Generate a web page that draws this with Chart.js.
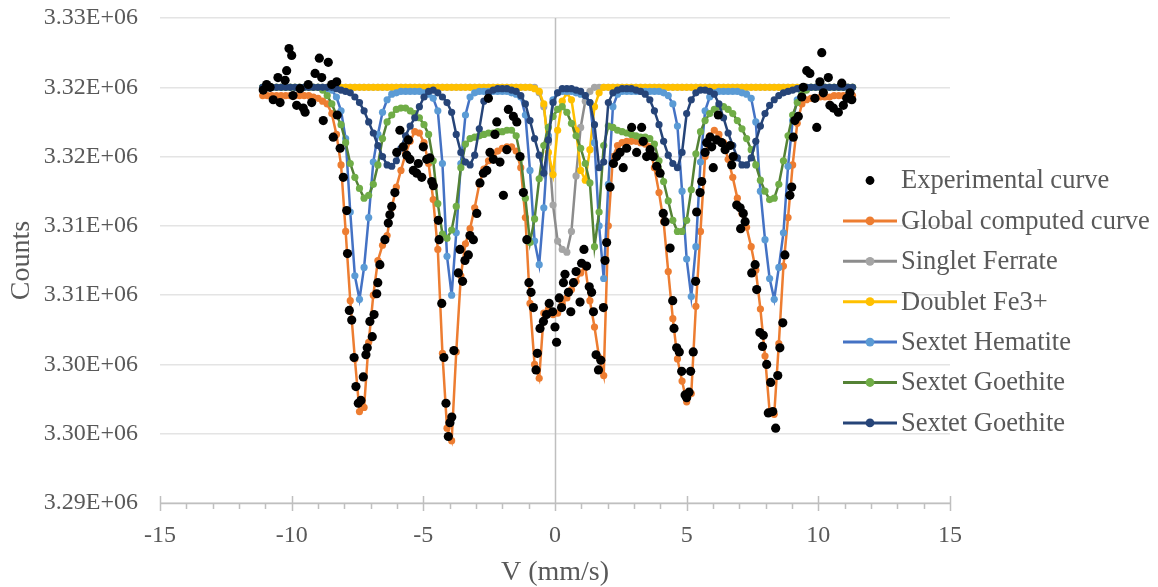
<!DOCTYPE html>
<html>
<head>
<meta charset="utf-8">
<script src="https://cdn.jsdelivr.net/npm/chart.js@4.4.1/dist/chart.umd.min.js"></script>
<style>
  html, body { margin: 0; padding: 0; background: #fff; }
  #wrap { width: 1158px; height: 587px; }
</style>
</head>
<body>
<div id="wrap"><canvas id="chart"></canvas></div>
<script>
// velocity channels (mm/s) shared by the fitted curves
const velocity = [
  -11.1, -10.925, -10.75, -10.575, -10.4, -10.225, -10.05, -9.875, -9.7, -9.525,
  -9.35, -9.175, -9, -8.825, -8.65, -8.475, -8.3, -8.125, -7.95, -7.775,
  -7.6, -7.425, -7.25, -7.075, -6.9, -6.725, -6.55, -6.375, -6.2, -6.025,
  -5.85, -5.675, -5.5, -5.325, -5.15, -4.975, -4.8, -4.625, -4.45, -4.275,
  -4.1, -3.925, -3.75, -3.575, -3.4, -3.225, -3.05, -2.875, -2.7, -2.525,
  -2.35, -2.175, -2, -1.825, -1.65, -1.475, -1.3, -1.125, -0.95, -0.775,
  -0.6, -0.425, -0.25, -0.075, 0.1, 0.275, 0.45, 0.625, 0.8, 0.975,
  1.15, 1.325, 1.5, 1.675, 1.85, 2.025, 2.2, 2.375, 2.55, 2.725,
  2.9, 3.075, 3.25, 3.425, 3.6, 3.775, 3.95, 4.125, 4.3, 4.475,
  4.65, 4.825, 5, 5.175, 5.35, 5.525, 5.7, 5.875, 6.05, 6.225,
  6.4, 6.575, 6.75, 6.925, 7.1, 7.275, 7.45, 7.625, 7.8, 7.975,
  8.15, 8.325, 8.5, 8.675, 8.85, 9.025, 9.2, 9.375, 9.55, 9.725,
  9.9, 10.075, 10.25, 10.425, 10.6, 10.775, 10.95, 11.125, 11.3
]

// counts, in thousands
const globalCurve = [
  3319.4, 3319.4, 3319.4, 3319.4, 3319.4, 3319.4, 3319.4, 3319.4, 3319.4, 3319.4,
  3319.4, 3319.3, 3319.2, 3319.0, 3318.8, 3318.1, 3316.6, 3314.4, 3309.6, 3304.6,
  3300.4, 3296.6, 3296.9, 3301.6, 3305.0, 3307.5, 3308.6, 3309.3, 3311.3, 3312.8,
  3314.0, 3315.2, 3316.1, 3316.8, 3316.7, 3316.0, 3314.5, 3311.9, 3308.3, 3300.8,
  3295.4, 3294.5, 3300.9, 3306.4, 3308.7, 3309.8, 3311.3, 3313.0, 3314.1, 3314.7,
  3315.1, 3315.4, 3315.6, 3315.7, 3315.7, 3315.4, 3314.2, 3310.6, 3304.4, 3300.0,
  3299.0, 3303.7, 3304.0, 3303.6, 3303.7, 3304.4, 3304.8, 3305.4, 3306.0, 3306.6,
  3307.0, 3304.6, 3302.7, 3300.5, 3299.2, 3310.0, 3315.0, 3315.8, 3316.0, 3316.1,
  3316.1, 3316.1, 3316.0, 3315.9, 3315.7, 3314.2, 3312.4, 3310.3, 3306.7, 3303.3,
  3300.4, 3298.8, 3297.3, 3297.9, 3304.2, 3309.6, 3315.0, 3316.5, 3316.9, 3316.6,
  3316.0, 3314.8, 3313.5, 3312.0, 3310.9, 3309.9, 3308.5, 3306.8, 3304.0, 3300.6,
  3296.6, 3296.4, 3301.5, 3307.1, 3310.6, 3314.4, 3317.4, 3318.8, 3319.1, 3319.2,
  3319.2, 3319.3, 3319.3, 3319.3, 3319.4, 3319.4, 3319.4, 3319.4, 3319.4
]

const singletCurve = [
  3320, 3320, 3320, 3320, 3320, 3320, 3320, 3320, 3320, 3320,
  3320, 3320, 3320, 3320, 3320, 3320, 3320, 3320, 3320, 3320,
  3320, 3320, 3320, 3320, 3320, 3320, 3320, 3320, 3320, 3320,
  3320, 3320, 3320, 3320, 3320, 3320, 3320, 3320, 3320, 3320,
  3320, 3320, 3320, 3320, 3320, 3320, 3320, 3320, 3320, 3320,
  3320, 3320, 3320, 3320, 3320, 3320, 3320, 3320, 3320, 3320,
  3319.6, 3318.6, 3316.0, 3311.5, 3308.9, 3308.3, 3308.1, 3309.6, 3313.6, 3317.1,
  3319.0, 3319.7, 3320, 3320, 3320, 3320, 3320, 3320, 3320, 3320,
  3320, 3320, 3320, 3320, 3320, 3320, 3320, 3320, 3320, 3320,
  3320, 3320, 3320, 3320, 3320, 3320, 3320, 3320, 3320, 3320,
  3320, 3320, 3320, 3320, 3320, 3320, 3320, 3320, 3320, 3320,
  3320, 3320, 3320, 3320, 3320, 3320, 3320, 3320, 3320, 3320,
  3320, 3320, 3320, 3320, 3320, 3320, 3320, 3320, 3320
]

const doubletCurve = [
  3320, 3320, 3320, 3320, 3320, 3320, 3320, 3320, 3320, 3320,
  3320, 3320, 3320, 3320, 3320, 3320, 3320, 3320, 3320, 3320,
  3320, 3320, 3320, 3320, 3320, 3320, 3320, 3320, 3320, 3320,
  3320, 3320, 3320, 3320, 3320, 3320, 3320, 3320, 3320, 3320,
  3320, 3320, 3320, 3320, 3320, 3320, 3320, 3320, 3320, 3320,
  3320, 3320, 3320, 3320, 3320, 3320, 3320, 3320, 3320, 3319.9,
  3319.7, 3318.8, 3315.3, 3313.7, 3316.9, 3319.0, 3319.6, 3319.1, 3316.9, 3314.0,
  3313.3, 3315.5, 3318.6, 3319.6, 3320, 3320, 3320, 3320, 3320, 3320,
  3320, 3320, 3320, 3320, 3320, 3320, 3320, 3320, 3320, 3320,
  3320, 3320, 3320, 3320, 3320, 3320, 3320, 3320, 3320, 3320,
  3320, 3320, 3320, 3320, 3320, 3320, 3320, 3320, 3320, 3320,
  3320, 3320, 3320, 3320, 3320, 3320, 3320, 3320, 3320, 3320,
  3320, 3320, 3320, 3320, 3320, 3320, 3320, 3320, 3320
]

const hematiteCurve = [
  3320, 3320, 3320, 3320, 3320, 3320, 3320, 3320, 3320, 3320,
  3320.0, 3320.0, 3320.0, 3320.0, 3319.9, 3319.8, 3319.3, 3318.3, 3316.3, 3311.0,
  3306.4, 3304.7, 3307.0, 3310.6, 3314.6, 3316.6, 3318.2, 3319.1, 3319.5, 3319.6,
  3319.7, 3319.7, 3319.7, 3319.7, 3319.7, 3319.6, 3319.5, 3319.2, 3318.3, 3314.5,
  3307.8, 3305.0, 3309.5, 3314.5, 3318.0, 3319.3, 3319.6, 3319.7, 3319.7, 3319.7,
  3319.7, 3319.7, 3319.7, 3319.7, 3319.6, 3319.5, 3319.3, 3318.0, 3314.0, 3308.9,
  3307.2, 3311.3, 3316.5, 3319.1, 3319.6, 3319.7, 3319.7, 3319.7, 3319.6, 3319.5,
  3319.4, 3318.9, 3316.0, 3310.0, 3306.2, 3313.0, 3318.6, 3319.5, 3319.7, 3319.7,
  3319.7, 3319.7, 3319.7, 3319.7, 3319.7, 3319.7, 3319.7, 3319.6, 3319.4, 3318.8,
  3317.2, 3312.5, 3307.6, 3304.9, 3308.5, 3314.6, 3318.3, 3319.3, 3319.6, 3319.7,
  3319.7, 3319.7, 3319.7, 3319.7, 3319.6, 3319.5, 3319.2, 3317.5, 3312.5, 3309.0,
  3306.2, 3304.7, 3307.0, 3309.5, 3314.3, 3317.6, 3319.1, 3319.7, 3319.9, 3320.0,
  3320, 3320, 3320, 3320, 3320, 3320, 3320, 3320, 3320
]

const goethiteCurve = [
  3320, 3320, 3320, 3320, 3320, 3320, 3320, 3320, 3320, 3320,
  3320.0, 3320.0, 3320.0, 3319.8, 3319.4, 3318.8, 3318.0, 3317.3, 3316.0, 3314.5,
  3313.5, 3312.7, 3312.0, 3312.2, 3313.0, 3314.4, 3316.3, 3317.5, 3318.0, 3318.4,
  3318.5, 3318.5, 3318.3, 3318.1, 3317.8, 3317.3, 3316.6, 3314.7, 3311.6, 3309.4,
  3309.1, 3309.7, 3311.4, 3314.2, 3315.9, 3316.3, 3316.4, 3316.5, 3316.6, 3316.7,
  3316.7, 3316.8, 3316.8, 3316.9, 3316.9, 3316.5, 3314.9, 3312.0, 3308.8, 3310.5,
  3313.4, 3315.8, 3317.1, 3317.9, 3318.4, 3318.6, 3318.2, 3317.4, 3316.5, 3315.6,
  3314.5, 3313.1, 3308.5, 3311.0, 3315.8, 3317.2, 3317.1, 3316.9, 3316.8, 3316.7,
  3316.6, 3316.5, 3316.4, 3316.4, 3316.3, 3315.9, 3314.7, 3313.2, 3311.8, 3310.4,
  3309.6, 3309.6, 3310.4, 3312.6, 3315.2, 3316.8, 3317.6, 3318.1, 3318.4, 3318.6,
  3318.6, 3318.4, 3318.1, 3317.6, 3317.0, 3316.3, 3315.5, 3314.4, 3313.3, 3312.5,
  3311.9, 3312.0, 3313.0, 3314.7, 3316.5, 3318.0, 3318.9, 3319.5, 3319.8, 3320.0,
  3320, 3320, 3320, 3320, 3320, 3320, 3320, 3320, 3320
]

const goethite2Curve = [
  3320, 3320, 3320, 3320, 3320, 3320, 3320, 3320, 3320, 3320,
  3320.0, 3320.0, 3320.0, 3320.0, 3320.0, 3320.0, 3319.9, 3319.8, 3319.7, 3319.6,
  3319.3, 3318.9, 3318.3, 3317.5, 3316.7, 3315.8, 3315.0, 3314.4, 3314.3, 3314.7,
  3315.6, 3316.5, 3317.2, 3317.8, 3318.6, 3319.3, 3319.7, 3319.8, 3319.6, 3319.3,
  3318.9, 3318.2, 3316.6, 3315.3, 3314.6, 3314.4, 3315.1, 3317.0, 3319.0, 3319.6,
  3319.8, 3319.9, 3319.9, 3319.9, 3319.8, 3319.7, 3319.4, 3318.8, 3317.6, 3316.3,
  3315.1, 3313.8, 3316.2, 3318.9, 3319.6, 3319.9, 3319.9, 3319.9, 3319.8, 3319.7,
  3319.4, 3318.9, 3317.3, 3314.2, 3314.6, 3318.9, 3319.6, 3319.8, 3319.9, 3319.9,
  3319.9, 3319.8, 3319.7, 3319.5, 3319.1, 3318.3, 3317.3, 3316.1, 3315.1, 3314.5,
  3314.2, 3315.3, 3318.1, 3319.1, 3319.6, 3319.8, 3319.8, 3319.7, 3319.5, 3318.8,
  3317.8, 3316.7, 3315.8, 3314.9, 3314.4, 3314.4, 3314.9, 3316.1, 3317.2, 3318.1,
  3318.7, 3319.1, 3319.4, 3319.6, 3319.7, 3319.8, 3319.9, 3320.0, 3320.0, 3320.0,
  3320, 3320, 3320, 3320, 3320, 3320, 3320, 3320, 3320
]

// measured spectrum
const expVelocity = [
  -11.08, -10.95, -10.82, -10.70, -10.52, -10.44, -10.25, -10.19, -10.10, -10.00,
  -9.95, -9.81, -9.68, -9.56, -9.49, -9.37, -9.24, -9.11, -8.95, -8.86,
  -8.80, -8.61, -8.48, -8.42, -8.29, -8.27, -8.16, -8.04, -7.91, -7.88,
  -7.81, -7.72, -7.63, -7.56, -7.47, -7.37, -7.28, -7.18, -7.13, -7.03,
  -6.94, -6.87, -6.77, -6.73, -6.65, -6.46, -6.33, -6.27, -6.20, -6.08,
  -6.01, -5.89, -5.76, -5.63, -5.57, -5.51, -5.38, -5.25, -5.19, -5.06,
  -5.00, -4.87, -4.75, -4.68, -4.62, -4.43, -4.40, -4.30, -4.22, -4.14,
  -4.05, -3.99, -3.92, -3.84, -3.67, -3.61, -3.51, -3.42, -3.29, -3.23,
  -3.10, -2.97, -2.85, -2.72, -2.59, -2.53, -2.47, -2.34, -2.28, -2.21,
  -2.09, -1.96, -1.83, -1.77, -1.58, -1.45, -1.33, -1.20, -1.07, -0.99,
  -0.91, -0.82, -0.72, -0.67, -0.57, -0.44, -0.32, -0.22, -0.09, 0.00,
  0.06, 0.16, 0.25, 0.32, 0.38, 0.51, 0.60, 0.70, 0.80, 0.95,
  1.01, 1.10, 1.20, 1.30, 1.39, 1.46, 1.56, 1.65, 1.74, 1.84,
  1.90, 1.96, 2.09, 2.22, 2.34, 2.47, 2.59, 2.72, 2.91, 3.10,
  3.29, 3.35, 3.48, 3.61, 3.73, 3.86, 3.99, 4.11, 4.18, 4.37,
  4.47, 4.52, 4.62, 4.72, 4.81, 4.94, 5.00, 5.09, 5.15, 5.25,
  5.34, 5.38, 5.51, 5.57, 5.70, 5.76, 5.89, 5.95, 6.01, 6.14,
  6.20, 6.33, 6.46, 6.65, 6.71, 6.77, 6.90, 7.03, 7.05, 7.15,
  7.22, 7.47, 7.60, 7.66, 7.78, 7.88, 7.91, 8.04, 8.10, 8.19,
  8.27, 8.38, 8.46, 8.54, 8.65, 8.73, 8.92, 8.99, 9.05, 9.11,
  9.24, 9.37, 9.43, 9.56, 9.68, 9.87, 9.94, 10.06, 10.13, 10.19,
  10.38, 10.44, 10.57, 10.76, 10.89, 10.95, 11.08, 11.20, 11.27
]
const expCounts = [
  3319.8, 3320.2, 3320.0, 3319.1, 3320.7, 3318.9, 3320.5, 3321.2, 3322.8, 3322.3,
  3319.4, 3318.7, 3319.9, 3318.5, 3318.2, 3320.2, 3318.9, 3321.0, 3322.1, 3320.7,
  3317.6, 3321.8, 3320.2, 3316.4, 3320.4, 3318.0, 3315.6, 3313.5, 3311.1, 3308.0,
  3303.9, 3303.2, 3300.5, 3298.4, 3297.2, 3297.4, 3299.1, 3300.7, 3301.2, 3303.1,
  3302.0, 3303.6, 3305.1, 3305.9, 3307.2, 3309.0, 3310.2, 3310.8, 3311.4, 3312.4,
  3315.3, 3316.9, 3315.7, 3315.1, 3316.2, 3314.8, 3314.0, 3313.8, 3314.5, 3313.5,
  3315.7, 3314.8, 3314.9, 3313.2, 3312.9, 3310.4, 3309.0, 3304.4, 3300.5, 3297.2,
  3294.8, 3295.8, 3296.2, 3301.0, 3306.6, 3308.3, 3306.0, 3307.5, 3307.9, 3309.3,
  3309.0, 3310.9, 3313.1, 3313.8, 3314.0, 3319.2, 3315.3, 3314.8, 3316.6, 3317.5,
  3314.6, 3312.2, 3315.5, 3318.4, 3317.9, 3317.5, 3315.0, 3312.4, 3309.0, 3305.9,
  3305.2, 3304.1, 3299.6, 3300.8, 3302.6, 3303.1, 3303.6, 3304.4, 3303.8, 3302.7,
  3301.6, 3304.8, 3304.1, 3305.9, 3306.5, 3305.2, 3303.8, 3305.9, 3306.7, 3304.5,
  3307.3, 3308.3, 3307.1, 3305.6, 3305.2, 3303.8, 3300.7, 3299.6, 3300.3, 3304.1,
  3307.5, 3308.8, 3312.8, 3314.5, 3315.0, 3315.3, 3314.2, 3315.6, 3317.1, 3315.3,
  3317.1, 3316.1, 3315.0, 3315.5, 3315.0, 3314.3, 3313.8, 3310.9, 3310.3, 3308.4,
  3304.6, 3302.6, 3301.2, 3300.9, 3299.5, 3297.8, 3297.6, 3298.0, 3299.5, 3300.9,
  3306.0, 3311.0, 3312.4, 3313.2, 3315.3, 3316.0, 3316.4, 3315.7, 3314.2, 3316.2,
  3318.0, 3316.0, 3315.5, 3315.8, 3314.4, 3315.0, 3311.5, 3311.3, 3309.8, 3310.9,
  3310.3, 3306.6, 3307.2, 3305.4, 3302.3, 3301.3, 3302.1, 3300.0, 3296.5, 3298.7,
  3296.6, 3295.4, 3299.2, 3301.2, 3303.0, 3307.9, 3312.2, 3312.8, 3316.4, 3317.6,
  3317.9, 3319.3, 3320.0, 3321.2, 3321.0, 3319.2, 3317.1, 3320.4, 3322.5, 3319.6,
  3320.7, 3318.7, 3318.5, 3318.2, 3320.3, 3318.7, 3319.2, 3319.6, 3319.1
]

const yTickLabels = ["3.29E+06", "3.30E+06", "3.30E+06", "3.31E+06", "3.31E+06", "3.32E+06", "3.32E+06", "3.33E+06"]

const FONT = "'Liberation Serif', 'Times New Roman', serif"
const TEXT = "#595959"

const toPoints = (xs, ys) => xs.map((x, i) => ({ x: x, y: ys[i] }))

function curve(label, values, line, marker, order) {
  return {
    label: label,
    data: toPoints(velocity, values),
    showLine: true,
    borderColor: line,
    borderWidth: 2.5,
    pointRadius: 3.6,
    pointBorderWidth: 0,
    pointBackgroundColor: marker,
    backgroundColor: marker,
    order: order
  }
}

// zero line and the x axis with its crossing ticks
const axisLines = {
  id: "axisLines",
  beforeDatasetsDraw(chart) {
    const { ctx, chartArea: a, scales: { x } } = chart
    ctx.save()
    ctx.strokeStyle = "#BFBFBF"
    ctx.lineWidth = 1.5
    const x0 = Math.round(x.getPixelForValue(0)) + 0.5
    ctx.beginPath()
    ctx.moveTo(x0, a.top)
    ctx.lineTo(x0, a.bottom)
    ctx.moveTo(a.left, a.bottom + 0.5)
    ctx.lineTo(a.right, a.bottom + 0.5)
    for (let v = x.min; v <= x.max; v++) {
      const px = Math.round(x.getPixelForValue(v)) + 0.5
      const major = v % 5 === 0
      ctx.moveTo(px, a.bottom - (major ? 7 : 0))
      ctx.lineTo(px, a.bottom + (major ? 8 : 6))
    }
    ctx.stroke()
    ctx.restore()
  }
}

// legend drawn over the right part of the plot, like the original
const sideLegend = {
  id: "sideLegend",
  afterDraw(chart) {
    const ctx = chart.ctx
    ctx.save()
    ctx.font = "26.5px " + FONT
    ctx.textBaseline = "middle"
    chart.data.datasets.forEach((ds, i) => {
      const y = 180.5 + i * 40.4
      if (ds.showLine) {
        ctx.strokeStyle = ds.borderColor
        ctx.lineWidth = 3
        ctx.beginPath()
        ctx.moveTo(843, y)
        ctx.lineTo(897, y)
        ctx.stroke()
      }
      ctx.fillStyle = ds.pointBackgroundColor
      ctx.beginPath()
      ctx.arc(870, y, 4.4, 0, Math.PI * 2)
      ctx.fill()
      ctx.fillStyle = TEXT
      ctx.fillText(ds.label, 901, y + 1)
    })
    ctx.restore()
  }
}

new Chart(document.getElementById("chart"), {
  type: "scatter",
  data: {
    datasets: [
      {
        label: "Experimental curve",
        data: toPoints(expVelocity, expCounts),
        showLine: false,
        pointRadius: 4.6,
        pointBorderWidth: 0,
        pointBackgroundColor: "#000000",
        backgroundColor: "#000000",
        order: 0
      },
      curve("Global computed curve", globalCurve, "#ED7D31", "#ED7D31", 6),
      curve("Singlet Ferrate", singletCurve, "#8C8C8C", "#A5A5A5", 5),
      curve("Doublet Fe3+", doubletCurve, "#FFC000", "#FFC000", 4),
      curve("Sextet Hematite", hematiteCurve, "#4472C4", "#5B9BD5", 3),
      curve("Sextet Goethite", goethiteCurve, "#548235", "#70AD47", 2),
      curve("Sextet Goethite", goethite2Curve, "#264478", "#264478", 1)
    ]
  },
  options: {
    responsive: true,
    maintainAspectRatio: false,
    animation: false,
    events: [],
    layout: { padding: { top: 0, right: 208, left: 0, bottom: 0 } },
    plugins: {
      legend: { display: false },
      tooltip: { enabled: false }
    },
    scales: {
      x: {
        type: "linear",
        min: -15,
        max: 15,
        afterFit: (s) => { s.height = 84 },
        grid: { display: false, drawTicks: false },
        border: { display: false },
        ticks: { stepSize: 5, padding: 18, color: TEXT, font: { family: FONT, size: 24 } },
        title: { display: true, text: "V (mm/s)", color: TEXT, font: { family: FONT, size: 28, lineHeight: 1 }, padding: { top: 0, bottom: 0 } }
      },
      y: {
        min: 3290,
        max: 3325,
        afterFit: (s) => { s.width = 160; s.paddingTop = 18; s.paddingBottom = 0 },
        grid: { color: "#E4E4E4", lineWidth: 1.5, drawTicks: false },
        border: { display: false },
        ticks: {
          stepSize: 5,
          padding: 22,
          color: TEXT,
          font: { family: FONT, size: 24 },
          callback: (value, index) => yTickLabels[index]
        },
        title: { display: true, text: "Counts", color: TEXT, font: { family: FONT, size: 28, lineHeight: 1 }, padding: { top: 8, bottom: 0 } }
      }
    }
  },
  plugins: [axisLines, sideLegend]
})
</script>
</body>
</html>
